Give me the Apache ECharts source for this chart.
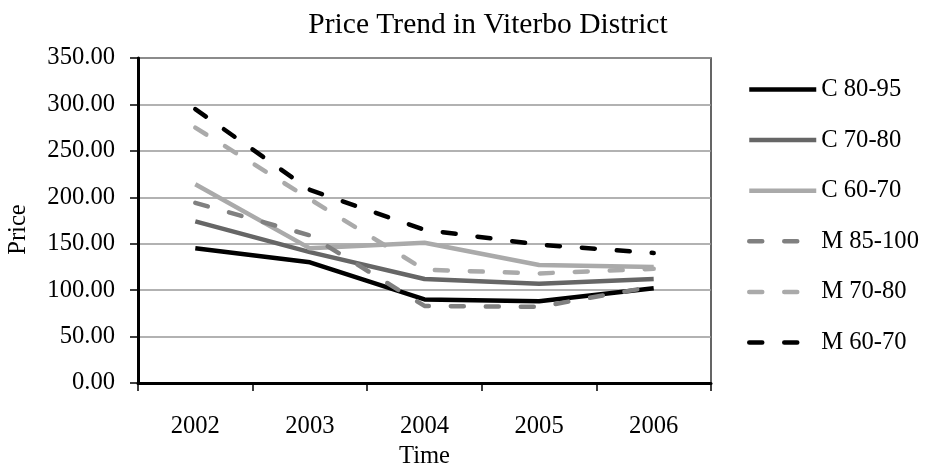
<!DOCTYPE html>
<html>
<head>
<meta charset="utf-8">
<script src="https://cdn.jsdelivr.net/npm/echarts@6/dist/echarts.min.js"></script>
<style>
html, body { margin: 0; padding: 0; background: #fff; }
#chart { width: 926px; height: 468px; }
</style>
</head>
<body>
<div id="chart"></div>
<script>
var years = ["2002", "2003", "2004", "2005", "2006"];
var names = ["C 80-95", "C 70-80", "C 60-70", "M 85-100", "M 70-80", "M 60-70"];
var c8095 = [145, 130, 90, 88, 102];
var c7080 = [174, 141, 112, 107, 112];
var c6070 = [214, 145, 151, 127, 125];
var m85100 = [194, 159, 83, 82, 104];
var m7080 = [275, 198, 122, 118, 123];
var m6070 = [295, 208, 165, 149, 140];

var FONT = "Liberation Serif";
var chart = echarts.init(document.getElementById("chart"));

function line(name, data, color, dashed) {
    return {
        name: name,
        type: "line",
        data: data,
        symbol: "none",
        lineStyle: {
            color: color,
            width: 4.5,
            type: dashed ? [13, 22] : "solid",
            cap: dashed ? "round" : "butt"
        },
        itemStyle: { color: color }
    };
}

var option = {
    animation: false,
    backgroundColor: "#fff",
    title: {
        text: "Price Trend in Viterbo District",
        left: 483,
        top: 5,
        textAlign: "center",
        textStyle: { fontFamily: FONT, fontSize: 29.5, fontWeight: "normal", color: "#000" }
    },
    legend: {
        orient: "vertical",
        left: 747,
        top: 77,
        padding: 0,
        itemWidth: 67,
        itemHeight: 14,
        itemGap: 25.6,
        data: names,
        itemStyle: { opacity: 0 },
        lineStyle: { width: 4.5 },
        textStyle: { fontFamily: FONT, fontSize: 24.6, color: "#000" }
    },
    grid: {
        left: 138,
        right: 215,
        top: 58,
        bottom: 85,
        outerBoundsMode: "none",
        show: true,
        borderColor: "#333",
        borderWidth: 1.5
    },
    xAxis: {
        type: "category",
        data: years,
        boundaryGap: true,
        name: "Time",
        nameLocation: "middle",
        nameGap: 56,
        nameTextStyle: { fontFamily: FONT, fontSize: 24.6, color: "#000" },
        axisLine: { lineStyle: { color: "#000", width: 3 } },
        axisTick: { show: true, length: 8, lineStyle: { color: "#000", width: 1.5 } },
        axisLabel: { margin: 31, fontFamily: FONT, fontSize: 24.6, color: "#000" }
    },
    yAxis: {
        type: "value",
        min: 0,
        max: 350,
        interval: 50,
        name: "Price",
        nameLocation: "middle",
        nameGap: 107,
        nameTextStyle: { fontFamily: FONT, fontSize: 24.6, color: "#000", padding: [0, 18, 0, 0] },
        axisLine: { show: true, lineStyle: { color: "#000", width: 3 } },
        axisTick: { show: true, length: 8, lineStyle: { color: "#000", width: 1.5 } },
        axisLabel: {
            margin: 23,
            fontFamily: FONT,
            fontSize: 24.6,
            color: "#000",
            formatter: function (v) { return v.toFixed(2); }
        },
        splitLine: { lineStyle: { color: "#999", width: 1.5 } }
    },
    series: [
        line(names[0], c8095, "#000000", false),
        line(names[1], c7080, "#666666", false),
        line(names[2], c6070, "#aaaaaa", false),
        line(names[3], m85100, "#808080", true),
        line(names[4], m7080, "#aaaaaa", true),
        line(names[5], m6070, "#000000", true)
    ]
};
chart.setOption(option);
</script>
</body>
</html>
